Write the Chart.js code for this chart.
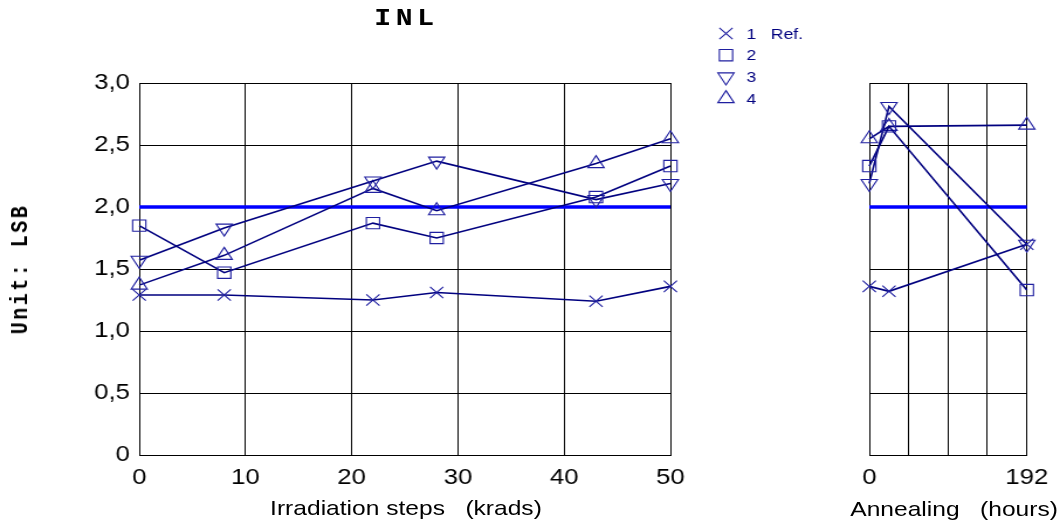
<!DOCTYPE html>
<html><head><meta charset="utf-8">
<script src="https://cdn.jsdelivr.net/npm/chart.js@4"></script>
<style>
html,body{margin:0;padding:0;background:#fff;overflow:hidden;width:1060px;height:522px;}
#wrap{position:absolute;left:0;top:0;width:906px;height:522px;transform-origin:0 0;transform:scaleX(1.16998);}
canvas{position:absolute;top:0;}
#c1{left:0;}
#c2{left:700px;}
.t{position:absolute;white-space:pre;color:#000;line-height:1;transform:translate(-50%,-50%);}
.sans{font-family:'Liberation Sans',Arial,sans-serif;font-size:21px;}
.mono{font-family:'Liberation Mono','Courier New',monospace;font-weight:bold;}
</style></head><body>
<div id="wrap">
<canvas id="c1" width="700" height="522"></canvas>
<canvas id="c2" width="206" height="522"></canvas>
<div class="t mono" id="ttl" style="left:347.5px;top:19px;font-size:24px;letter-spacing:4px;">INL</div>
<div class="t mono" id="ytl" style="left:17.5px;top:268.5px;font-size:20px;letter-spacing:2.5px;transform:translate(-50%,-50%) rotate(-90deg);">Unit: LSB</div>
<div class="t sans" id="xt1" style="left:347px;top:507px;">Irradiation steps   (krads)</div>
<div class="t sans" id="xt2" style="left:815.5px;top:508px;">Annealing   (hours)</div>
</div>
<script>
// ---- data ----
const krads = [0, 8, 22, 28, 43, 50];
const irr1 = [1.29, 1.29, 1.25, 1.31, 1.24, 1.36];
const irr2 = [1.85, 1.47, 1.87, 1.75, 2.08, 2.33];
const irr3 = [1.57, 1.83, 2.21, 2.37, 2.06, 2.19];
const irr4 = [1.37, 1.61, 2.15, 1.97, 2.35, 2.55];

const hours = [0, 24, 192];
const ann1 = [1.36, 1.32, 1.70];
const ann2 = [2.33, 2.65, 1.33];
const ann3 = [2.19, 2.81, 1.70];
const ann4 = [2.55, 2.65, 2.66];

const threshold = 2.0;
const seriesLabels = ['1   Ref.', '2', '3', '4'];
const yTickValues = [0, 0.5, 1, 1.5, 2, 2.5, 3];
const yTickLabels = ['0', '0,5', '1,0', '1,5', '2,0', '2,5', '3,0'];
const kradTickValues = [0, 10, 20, 30, 40, 50];
const kradTickLabels = ['0', '10', '20', '30', '40', '50'];
const hourTickValues = [0, 192];
const hourTickLabels = ['0', '192'];

// ---- styles ----
const LINE = '#00007f';
const MARK = '#1f1fa0';
const markers = [
  {pointStyle: 'crossRot', rotation: 0},
  {pointStyle: 'rect', rotation: 0},
  {pointStyle: 'triangle', rotation: 180},
  {pointStyle: 'triangle', rotation: 0}
];

Chart.defaults.font.family = "'Liberation Sans', Arial, sans-serif";
Chart.defaults.font.size = 22;
Chart.defaults.color = '#000';

function series(xs, ys, i) {
  return {
    label: seriesLabels[i],
    data: xs.map((x, k) => ({x: x, y: ys[k]})),
    borderColor: LINE,
    borderWidth: 1.6,
    pointStyle: markers[i].pointStyle,
    pointRotation: markers[i].rotation,
    pointRadius: 8,
    pointHoverRadius: 8,
    pointBorderColor: MARK,
    pointBorderWidth: 1.1,
    pointBackgroundColor: 'rgba(0,0,0,0)',
    fill: false,
    tension: 0,
    clip: false,
    order: 1
  };
}
function thresholdSet(xs) {
  return {
    label: 'limit',
    data: [{x: xs[0], y: threshold}, {x: xs[xs.length - 1], y: threshold}],
    borderColor: '#0000ff',
    borderWidth: 3.5,
    pointRadius: 0,
    fill: false,
    clip: false,
    order: 2
  };
}
function yScale(width, showTicks) {
  return {
    type: 'linear', min: 0, max: 3,
    ticks: {
      display: showTicks, stepSize: 0.5, padding: 8,
      callback: v => { const i = yTickValues.indexOf(v); return i >= 0 ? yTickLabels[i] : ''; }
    },
    grid: {color: '#000', lineWidth: 1, drawTicks: false},
    border: {color: '#000', width: 1},
    afterFit: s => { s.width = width; }
  };
}
function xScale(min, max, step, tv, tl) {
  return {
    type: 'linear', min: min, max: max,
    ticks: {
      stepSize: step, padding: 10, maxRotation: 0, autoSkip: false,
      callback: v => { const i = tv.indexOf(v); return i >= 0 ? tl[i] : ''; }
    },
    grid: {color: '#000', lineWidth: 1, drawTicks: false},
    border: {color: '#000', width: 1},
    afterFit: s => { s.height = 67; }
  };
}

function drawMarker(ctx, style, rot, r, x, y) {
  ctx.beginPath();
  if (style === 'crossRot') {
    const d = r * Math.SQRT1_2;
    ctx.moveTo(x - d, y - d); ctx.lineTo(x + d, y + d);
    ctx.moveTo(x - d, y + d); ctx.lineTo(x + d, y - d);
  } else if (style === 'rect') {
    const s = r * Math.SQRT1_2;
    ctx.rect(x - s, y - s, 2 * s, 2 * s);
  } else {
    const a0 = (rot || 0) * Math.PI / 180;
    for (let k = 0; k < 3; k++) {
      const a = a0 + k * 2 * Math.PI / 3;
      const px = x + Math.sin(a) * r, py = y - Math.cos(a) * r;
      if (k === 0) ctx.moveTo(px, py); else ctx.lineTo(px, py);
    }
    ctx.closePath();
  }
  ctx.stroke();
}

const legendPlugin = {
  id: 'seriesLegend',
  afterDraw(chart) {
    const ctx = chart.ctx;
    ctx.save();
    ctx.strokeStyle = MARK;
    ctx.lineWidth = 1.1;
    ctx.fillStyle = LINE;
    ctx.font = "15px 'Liberation Sans', Arial, sans-serif";
    ctx.textBaseline = 'middle';
    ctx.textAlign = 'left';
    for (let i = 0; i < seriesLabels.length; i++) {
      const y = 33.5 + i * 21.7;
      drawMarker(ctx, markers[i].pointStyle, markers[i].rotation, 8, 620.5, y);
      ctx.fillText(seriesLabels[i], 638, y + 1);
    }
    ctx.restore();
  }
};

const common = {
  responsive: false,
  animation: false,
  events: [],
  plugins: {legend: {display: false}, tooltip: {enabled: false}, title: {display: false}}
};

new Chart(document.getElementById('c1'), {
  type: 'line',
  data: {
    datasets: [
      series(krads, irr1, 0), series(krads, irr2, 1),
      series(krads, irr3, 2), series(krads, irr4, 3),
      thresholdSet(krads)
    ]
  },
  options: Object.assign({}, common, {
    layout: {padding: {top: 83, right: 127, bottom: 0, left: 0}},
    scales: {
      x: xScale(0, 50, 10, kradTickValues, kradTickLabels),
      y: yScale(119, true)
    }
  }),
  plugins: [legendPlugin]
});

new Chart(document.getElementById('c2'), {
  type: 'line',
  data: {
    datasets: [
      series(hours, ann1, 0), series(hours, ann2, 1),
      series(hours, ann3, 2), series(hours, ann4, 3),
      thresholdSet(hours)
    ]
  },
  options: Object.assign({}, common, {
    layout: {padding: {top: 83, right: 28, bottom: 0, left: 0}},
    scales: {
      x: xScale(0, 192, 48, hourTickValues, hourTickLabels),
      y: yScale(43, false)
    }
  })
});
</script>
</body></html>
